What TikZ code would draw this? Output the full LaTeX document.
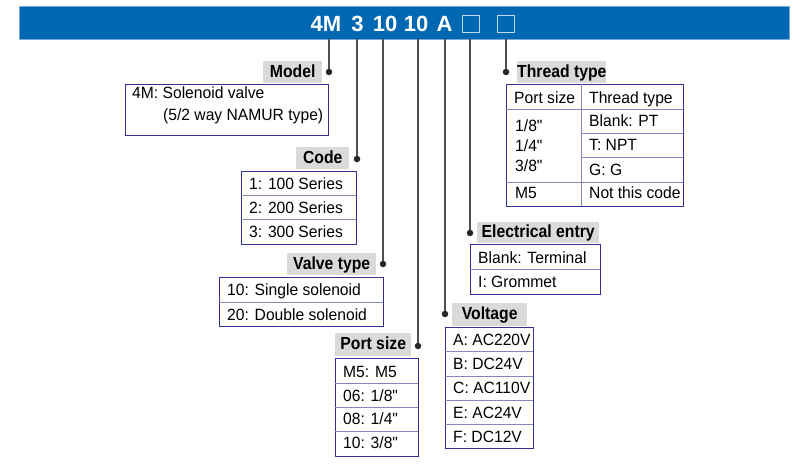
\documentclass[tikz,border=0pt]{standalone}
\usepackage{fontspec}
\setmainfont{Liberation Sans}[FakeStretch=0.96,Ligatures=TeXOff]
\newfontfamily\lblfont{Liberation Sans}[FakeStretch=0.9]
\newfontfamily\ttlfont{Liberation Sans}
\definecolor{barblue}{RGB}{0,104,178}
\definecolor{baredge}{RGB}{120,170,215}
\definecolor{lblgray}{RGB}{218,218,218}
\definecolor{boxnavy}{RGB}{48,48,150}
\definecolor{divline}{RGB}{135,135,190}
\definecolor{connc}{RGB}{80,80,80}
\begin{document}
\begin{tikzpicture}[x=1pt,y=-1pt,
  conn/.style={draw=connc,line width=1.1pt},
  dotnode/.style={circle,fill=black!85,inner sep=0pt,minimum size=6.5pt},
  lbl/.style={fill=lblgray,inner sep=0pt,anchor=north west,
     font=\lblfont\bfseries\fontsize{17.5}{17.5}\selectfont,
     text height=12.5pt,text depth=2pt},
  tbox/.style={draw=boxnavy,line width=1pt,inner sep=0pt,anchor=north west},
  divl/.style={draw=divline,line width=0.9pt},
  txt/.style={anchor=base west,inner sep=0pt,font=\fontsize{16.3}{16.3}\selectfont},
  ttl/.style={anchor=base,inner sep=0pt,text=white,font=\ttlfont\bfseries\fontsize{22}{22}\selectfont},
  sq/.style={draw=white!75!barblue,line width=0.9pt,inner sep=0pt,minimum size=17pt}
]
\useasboundingbox[fill=white] (0,0) rectangle (810,463);

% title bar
\node[fill=barblue,draw=baredge,line width=0.6pt,inner sep=0pt,anchor=north west,
      minimum width=770pt,minimum height=33pt] (bar) at (19,6) {};
\node[ttl] (t1) at (326,31) {4M};
\node[ttl] (t2) at (357.5,31) {3};
\node[ttl] (t3) at (385,31) {10};
\node[ttl] (t4) at (416,31) {10};
\node[ttl] (t5) at (444.5,31) {A};
\node[sq] (sq1) at (470.5,23.5) {};
\node[sq] (sq2) at (505.5,23.5) {};

% connector start points
\coordinate (cm) at (329,39);
\coordinate (cc) at (357,39);
\coordinate (cv) at (383,39);
\coordinate (cp) at (418,39);
\coordinate (cvo) at (445,39);
\coordinate (ce) at (470,39);
\coordinate (ct) at (506,39);

% dots
\node[dotnode] (dm) at (329,72) {};
\node[dotnode] (dc) at (357,159) {};
\node[dotnode] (dv) at (383,264) {};
\node[dotnode] (dp) at (418,346) {};
\node[dotnode] (dvo) at (445,314) {};
\node[dotnode] (de) at (470,233) {};
\node[dotnode] (dt) at (506,72) {};

\draw[conn] (cm) -- (dm);
\draw[conn] (cc) -- (dc);
\draw[conn] (cv) -- (dv);
\draw[conn] (cp) -- (dp);
\draw[conn] (cvo) -- (dvo);
\draw[conn] (ce) -- (de);
\draw[conn] (ct) -- (dt);

% ---------- Model
\node[lbl,minimum width=59pt,minimum height=22pt] (lm) at (263,61) {Model};
\node[tbox,minimum width=203pt,minimum height=51pt] (bm) at (125,84) {};
\node[txt] (m1) at (132,98.3) {4M: Solenoid valve};
\node[txt] (m2) at (163,120.5) {(5/2 way NAMUR type)};

% ---------- Code
\node[lbl,minimum width=53pt,minimum height=22pt] (lc) at (296,147) {Code};
\node[tbox,minimum width=115pt,minimum height=73pt] (bc) at (241,171) {};
\draw[divl] (241,195) -- (356,195);
\draw[divl] (241,219) -- (356,219);
\node[txt] (c1) at (249,189) {1: 100 Series};
\node[txt] (c2) at (249,213) {2: 200 Series};
\node[txt] (c3) at (249,237.3) {3: 300 Series};

% ---------- Valve type
\node[lbl,minimum width=89pt,minimum height=22pt] (lv) at (287,253) {Valve type};
\node[tbox,minimum width=164pt,minimum height=49pt] (bv) at (219,277) {};
\draw[divl] (219,302) -- (383,302);
\node[txt] (v1) at (227,295.7) {10: Single solenoid};
\node[txt] (v2) at (227,320) {20: Double solenoid};

% ---------- Port size
\node[lbl,minimum width=76pt,minimum height=23pt] (lp) at (335,333) {Port size};
\node[tbox,minimum width=83pt,minimum height=98pt] (bp) at (335,358) {};
\draw[divl] (335,383) -- (418,383);
\draw[divl] (335,407) -- (418,407);
\draw[divl] (335,431) -- (418,431);
\node[txt] (p1) at (343,377.3) {M5: M5};
\node[txt] (p2) at (343,401) {06: 1/8"};
\node[txt] (p3) at (343,424.3) {08: 1/4"};
\node[txt] (p4) at (343,448.3) {10: 3/8"};

% ---------- Voltage
\node[lbl,minimum width=75pt,minimum height=23pt] (lvo) at (452,303) {Voltage};
\node[tbox,minimum width=88pt,minimum height=121pt] (bvo) at (445,327) {};
\draw[divl] (445,351) -- (533,351);
\draw[divl] (445,376) -- (533,376);
\draw[divl] (445,400) -- (533,400);
\draw[divl] (445,424) -- (533,424);
\node[txt] (vo1) at (453,345) {A: AC220V};
\node[txt] (vo2) at (453,369.3) {B: DC24V};
\node[txt] (vo3) at (453,393.3) {C: AC110V};
\node[txt] (vo4) at (453,418.3) {E: AC24V};
\node[txt] (vo5) at (453,442.3) {F: DC12V};

% ---------- Electrical entry
\node[lbl,minimum width=122pt,minimum height=21pt] (le) at (477,222) {Electrical entry};
\node[tbox,minimum width=130pt,minimum height=50pt] (be) at (470,244) {};
\draw[divl] (470,269) -- (600,269);
\node[txt] (e1) at (478,263.3) {Blank: Terminal};
\node[txt] (e2) at (478,287.3) {I: Grommet};

% ---------- Thread type
\node[lbl,minimum width=89pt,minimum height=22pt] (lt) at (517,61) {Thread type};
\node[tbox,minimum width=177pt,minimum height=122pt] (bt) at (506,84) {};
\draw[divl] (581,84) -- (581,206);
\draw[divl] (506,109) -- (683,109);
\draw[divl] (581,133) -- (683,133);
\draw[divl] (581,157) -- (683,157);
\draw[divl] (506,182) -- (683,182);
\node[txt] (th1) at (514,103.3) {Port size};
\node[txt] (th2) at (589,103.3) {Thread type};
\node[txt] (th3) at (515,131.7) {1/8"};
\node[txt] (th4) at (515,151.7) {1/4"};
\node[txt] (th5) at (515,171.7) {3/8"};
\node[txt] (th6) at (589,126.7) {Blank: PT};
\node[txt] (th7) at (589,150.7) {T: NPT};
\node[txt] (th8) at (589,175) {G: G};
\node[txt] (th9) at (515,198.7) {M5};
\node[txt] (th10) at (589,198.7) {Not this code};
\end{tikzpicture}
\end{document}
